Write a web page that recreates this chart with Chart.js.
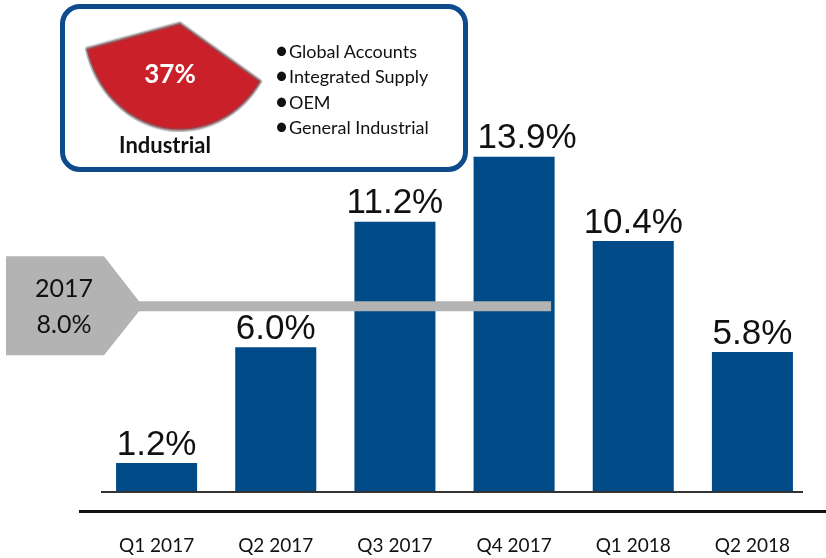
<!DOCTYPE html>
<html><head><meta charset="utf-8">
<script src="https://cdn.jsdelivr.net/npm/chart.js@4"></script>
<style>
html,body{margin:0;padding:0;background:#fff;width:826px;height:558px;overflow:hidden;position:relative;font-family:Lato,"Open Sans",sans-serif;color:#111;}
#main{position:absolute;left:0;top:0;}
#box{position:absolute;left:60px;top:4px;width:408px;height:168px;border:5px solid #0D4B8C;border-radius:20px;box-sizing:border-box;background:#fff;}
#pieWrap{position:absolute;left:82px;top:-75px;width:196px;height:196px;transform:scaleY(1.11);transform-origin:98px 98px;}
#pct{position:absolute;left:120px;top:60px;width:100px;text-align:center;font-weight:bold;font-size:26px;line-height:26px;color:#fff;}
#segName{position:absolute;left:105px;top:134px;width:120px;text-align:center;font-weight:bold;font-size:22px;line-height:22px;color:#111;}
#list{position:absolute;left:276px;top:39px;font-size:18px;line-height:25.3px;color:#111;white-space:nowrap;}
#list div{height:25.3px;}
#list span.b{display:inline-block;width:13px;transform:scale(1.35);transform-origin:35% 60%;}
</style>
</head><body>
<canvas id="main" width="826" height="558"></canvas>
<div id="box"></div>
<div id="pieWrap"><canvas id="pie" width="196" height="196"></canvas></div>
<div id="pct"></div>
<div id="segName"></div>
<div id="list"></div>
<script>
// ---- data ----
const categories = ['Q1 2017','Q2 2017','Q3 2017','Q4 2017','Q1 2018','Q2 2018'];
const growthValues = [1.2, 6.0, 11.2, 13.9, 10.4, 5.8];
const valueLabels = ['1.2%','6.0%','11.2%','13.9%','10.4%','5.8%'];
const avgYear = '2017';
const avgLabel = '8.0%';
const avgLineLevel = 7.7;      // level at which the average bar is drawn in the picture
const sliceValues = [37, 63];
const sliceLabel = '37%';
const segmentName = 'Industrial';
const segmentItems = ['Global Accounts','Integrated Supply','OEM','General Industrial'];

// ---- inset text ----
document.getElementById('pct').textContent = sliceLabel;
document.getElementById('segName').textContent = segmentName;
document.getElementById('list').innerHTML = segmentItems.map(t => '<div><span class="b">\u2022</span>' + t + '</div>').join('');

const labelDx = {3: 13};

const overlay = {
  id: 'overlay',
  afterDatasetsDraw(chart) {
    const ctx = chart.ctx;
    const xs = chart.scales.x, ys = chart.scales.y;
    const base = ys.getPixelForValue(0);
    ctx.save();
    // baseline under bars
    ctx.fillStyle = '#333';
    ctx.fillRect(101, base - 1, 702, 2);
    // second rule above category labels
    ctx.fillStyle = '#111';
    ctx.fillRect(79, base + 18, 747, 3);
    // average marker
    const ly = ys.getPixelForValue(avgLineLevel);
    const endX = xs.getPixelForValue(3) + 37;
    ctx.fillStyle = '#B3B3B3';
    ctx.beginPath();
    ctx.moveTo(6, ly - 50);
    ctx.lineTo(104, ly - 50);
    ctx.lineTo(139, ly - 5);
    ctx.lineTo(endX, ly - 5);
    ctx.lineTo(endX, ly + 5);
    ctx.lineTo(139, ly + 5);
    ctx.lineTo(104, ly + 49);
    ctx.lineTo(6, ly + 49);
    ctx.closePath();
    ctx.fill();
    ctx.fillStyle = '#111';
    ctx.font = '25px Lato';
    ctx.textAlign = 'center';
    ctx.textBaseline = 'alphabetic';
    ctx.fillText(avgYear, 64, ly - 9);
    ctx.fillText(avgLabel, 64, ly + 27);
    // value labels
    ctx.font = '35px "Liberation Sans", Arial, sans-serif';
    const meta = chart.getDatasetMeta(0);
    meta.data.forEach((bar, i) => {
      ctx.fillText(valueLabels[i], bar.x + (labelDx[i] || 0), bar.y - 8.5);
    });
    ctx.restore();
  }
};

new Chart(document.getElementById('main'), {
  type: 'bar',
  data: {
    labels: categories,
    datasets: [{
      data: growthValues,
      backgroundColor: '#004A87',
      borderWidth: 0,
      barPercentage: 0.68,
      categoryPercentage: 1.0
    }]
  },
  options: {
    responsive: false,
    animation: false,
    events: [],
    layout: { padding: { left: 97, right: 14, top: 106, bottom: 0 } },
    plugins: { legend: { display: false }, tooltip: { enabled: false } },
    scales: {
      y: { display: false, min: 0, max: 16 },
      x: {
        grid: { display: false, drawTicks: false },
        border: { display: false },
        ticks: { color: '#111', font: { family: 'Lato', size: 19 }, padding: 42, maxRotation: 0 },
        afterFit(s) { s.height = 66; s.paddingLeft = 0; s.paddingRight = 0; }
      }
    }
  },
  plugins: [overlay]
});

new Chart(document.getElementById('pie'), {
  type: 'pie',
  data: {
    labels: [segmentName, 'Other'],
    datasets: [{
      data: sliceValues,
      backgroundColor: ['#C9202A', 'rgba(0,0,0,0)'],
      borderColor: ['rgba(110,110,110,0.55)', 'rgba(0,0,0,0)'],
      borderWidth: [3, 0]
    }]
  },
  options: {
    responsive: false,
    animation: false,
    events: [],
    rotation: 123,
    layout: { padding: 0 },
    plugins: { legend: { display: false }, tooltip: { enabled: false } }
  }
});
</script>
</body></html>
